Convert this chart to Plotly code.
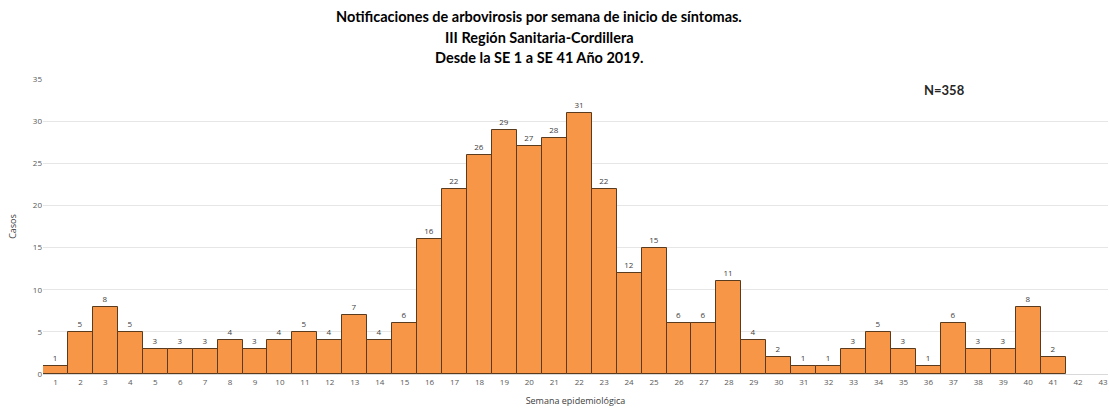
import plotly.graph_objects as go

semanas = list(range(1, 42))
casos = [1, 5, 8, 5, 3, 3, 3, 4, 3, 4, 5, 4, 7, 4, 6, 16, 22, 26, 29, 27, 28,
         31, 22, 12, 15, 6, 6, 11, 4, 2, 1, 1, 3, 5, 3, 1, 6, 3, 3, 8, 2]
tick_vals = list(range(1, 44))
titulo = ["Notificaciones de arbovirosis por semana de inicio de síntomas.",
          "III Región Sanitaria-Cordillera",
          "Desde la SE 1 a SE 41 Año 2019."]
total_txt = "N=358"

fig = go.Figure()
fig.add_trace(go.Bar(
    x=semanas, y=casos, width=1,
    marker=dict(color="#F79646", line=dict(color="#5b3b1e", width=1)),
    text=casos, textposition="outside", cliponaxis=False,
    textfont=dict(family="Open Sans", size=8, color="#404040"),
))

fig.update_layout(
    width=1109, height=408,
    margin=dict(l=43, r=1, t=79, b=34, autoexpand=False),
    plot_bgcolor="white", paper_bgcolor="white",
    showlegend=False, bargap=0,
    font=dict(family="Open Sans", size=8, color="#595959"),
    xaxis=dict(range=[0.5, 43.2], tickvals=tick_vals, showgrid=False,
               showline=True, linecolor="#d9d9d9", ticks="", zeroline=False,
               automargin=False,
               tickfont=dict(size=8, color="#595959"),
               title=dict(text="Semana epidemiológica", standoff=12,
                          font=dict(size=9, color="#404040"))),
    yaxis=dict(range=[0, 35], dtick=5, showgrid=True, gridcolor="#e6e6e6",
               zeroline=False, ticks="", showline=False, automargin=False,
               tickfont=dict(size=8, color="#595959"),
               title=dict(text="Casos", standoff=14,
                          font=dict(size=9, color="#404040"))),
)

for i, (t, yy) in enumerate(zip(titulo, [17, 37, 57])):
    fig.add_annotation(text=t, xref="paper", yref="paper", x=(539 - 43) / 1065,
                       y=1 + (79 - yy) / 295, xanchor="center", yanchor="middle",
                       showarrow=False,
                       font=dict(family="Lato", size=14.5, color="#000000", weight="bold"))

fig.add_annotation(text=total_txt, xref="paper", yref="paper",
                   x=(945 - 43) / 1065, y=1 - (90 - 79) / 295,
                   xanchor="center", yanchor="middle", showarrow=False,
                   font=dict(family="Lato", size=13, color="#262626", weight="bold"))

fig.write_html("out.html", config={"displayModeBar": False},
               post_script="document.body.style.margin='0px';document.body.style.overflow='hidden';")
